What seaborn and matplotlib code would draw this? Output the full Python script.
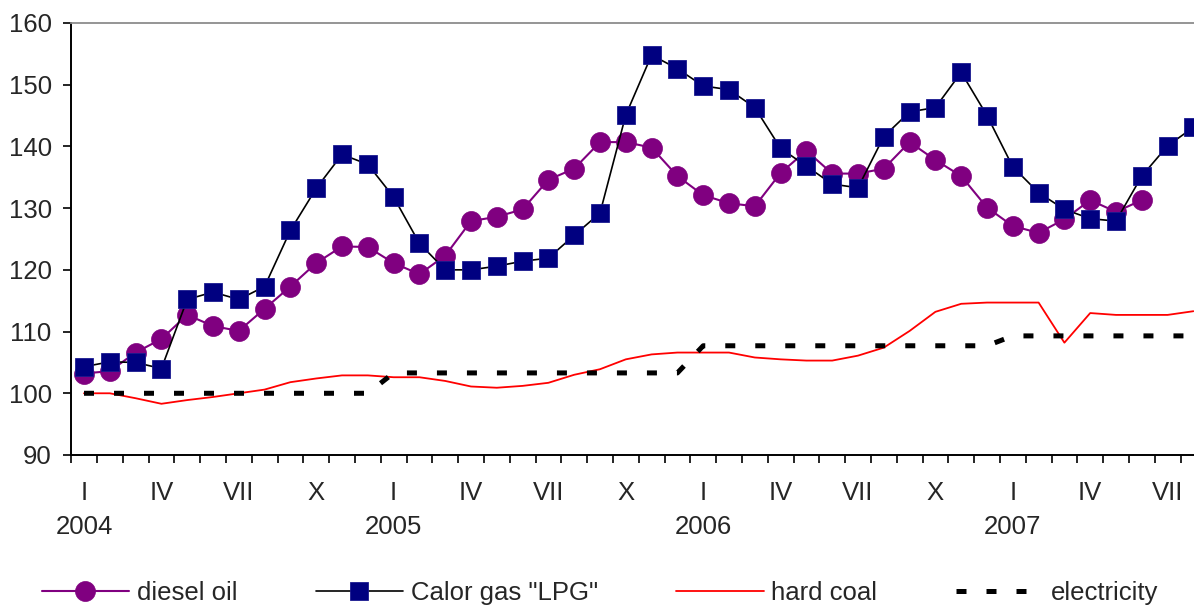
import numpy as np
import pandas as pd
import seaborn as sns
import matplotlib.pyplot as plt

# monthly index numbers, Jan 2004 - Aug 2007
months = pd.period_range('2004-01', '2007-08', freq='M').astype(str).tolist()

diesel = [103.2, 103.6, 106.6, 108.8, 112.7, 110.9, 110.1, 113.7, 117.3, 121.1, 123.8, 123.7,
          121.1, 119.3, 122.3, 127.9, 128.6, 129.8, 134.6, 136.4, 140.7, 140.7, 139.8, 135.2,
          132.1, 130.8, 130.3, 135.7, 139.3, 135.6, 135.6, 136.4, 140.7, 137.8, 135.2, 130.1,
          127.1, 126.0, 128.2, 131.3, 129.4, 131.3]
lpg = [104.3, 105.1, 105.0, 104.0, 115.2, 116.4, 115.2, 117.3, 126.4, 133.2, 138.7, 137.1,
       131.8, 124.3, 120.0, 120.0, 120.6, 121.4, 121.9, 125.6, 129.2, 145.1, 154.8, 152.6,
       149.8, 149.2, 146.3, 139.7, 136.8, 133.9, 133.3, 141.6, 145.6, 146.3, 152.0, 145.0,
       136.7, 132.5, 129.8, 128.3, 127.9, 135.2, 140.1, 143.1]
hard_coal = [100.0, 100.0, 99.2, 98.3, 98.9, 99.4, 100.0, 100.6, 101.8, 102.4, 102.9, 102.9,
             102.6, 102.6, 102.0, 101.1, 100.9, 101.2, 101.7, 103.0, 103.9, 105.5, 106.3, 106.6,
             106.6, 106.6, 105.8, 105.5, 105.3, 105.3, 106.1, 107.4, 110.1, 113.2, 114.5, 114.7,
             114.7, 114.7, 108.2, 113.0, 112.7, 112.7, 112.7, 113.3]
electricity = [100.0, 100.0, 100.0, 100.0, 100.0, 100.0, 100.0, 100.0, 100.0, 100.0, 100.0, 100.0,
               103.3, 103.3, 103.3, 103.3, 103.3, 103.3, 103.3, 103.3, 103.3, 103.3, 103.3, 103.3,
               107.7, 107.7, 107.7, 107.7, 107.7, 107.7, 107.7, 107.7, 107.7, 107.7, 107.7, 107.7,
               109.3, 109.3, 109.3, 109.3, 109.3, 109.3, 109.3, 109.3]

roman = ['I', 'IV', 'VII', 'X']
years = ['2004', '2005', '2006', '2007']

sns.set_style('ticks')
plt.rcParams['font.family'] = ['Liberation Sans', 'DejaVu Sans']

x = np.arange(len(months))

fig = plt.figure(figsize=(11.94, 6.05), dpi=100)
ax = fig.add_axes([71.1 / 1194, 150 / 605, 1135.2 / 1194, 432 / 605])

sns.lineplot(x=x[:len(diesel)], y=diesel, ax=ax, color='#800080', linewidth=1.5,
             marker='o', markersize=14.4, markeredgecolor='#800080', markeredgewidth=0.5,
             label='diesel oil')
sns.lineplot(x=x, y=lpg, ax=ax, color='black', linewidth=1.2,
             marker='s', markersize=13, markerfacecolor='#000080',
             markeredgecolor='#1a1a90', markeredgewidth=0.6,
             label='Calor gas "LPG"')
sns.lineplot(x=x, y=hard_coal, ax=ax, color='#ff0000', linewidth=1.3, label='hard coal')
sns.lineplot(x=x, y=electricity, ax=ax, color='black', linewidth=3.6,
             linestyle=(0, (2.0, 4.0)), label='electricity')

ax.set_xlim(-0.5, len(months) - 0.5)
ax.set_ylim(90, 160)
ax.set_yticks(range(90, 161, 10))

# category labels every quarter, year under January
pos, labs = [], []
for i, m in enumerate(months):
    mi = int(m[5:7])
    if mi in (1, 4, 7, 10):
        lab = roman[(mi - 1) // 3]
        if mi == 1:
            lab += '\n' + years[int(m[:4]) - 2004]
        pos.append(i)
        labs.append(lab)
ax.set_xticks(pos)
ax.set_xticklabels(labs, linespacing=1.52)
ax.set_xticks(np.arange(-0.5, len(months)), minor=True)
ax.tick_params(axis='x', which='major', length=0, pad=19, labelsize=18.5)
ax.tick_params(axis='x', which='minor', length=6, width=1.2, direction='out', color='black')
ax.tick_params(axis='y', length=6, width=1.2, pad=8, labelsize=18.5, color='black')
ax.set_xlabel('')
ax.set_ylabel('')

for s in ['left', 'bottom']:
    ax.spines[s].set_color('black')
    ax.spines[s].set_linewidth(1.4)
ax.spines['top'].set_color('#8c8c8c')
ax.spines['top'].set_linewidth(1.3)
ax.spines['right'].set_visible(False)

handles, labels = ax.get_legend_handles_labels()
ax.get_legend().remove()
fig.legend(handles, labels, loc='center left', bbox_to_anchor=(0.035, 0.02), ncol=4,
           frameon=False, fontsize=18.5, handlelength=3.4, handletextpad=0.3,
           columnspacing=3.05, borderpad=0, borderaxespad=0)

fig.savefig('out.png', dpi=100)
